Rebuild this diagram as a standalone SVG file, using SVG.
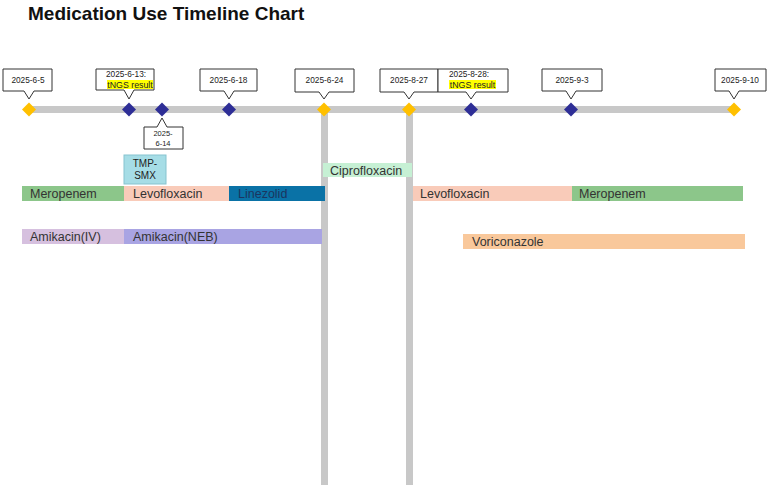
<svg xmlns="http://www.w3.org/2000/svg" width="767" height="485" viewBox="0 0 767 485">
<style>
.title{font-family:"Liberation Sans",Arial,sans-serif;font-size:19px;font-weight:bold;fill:#111}
.call{fill:#fff;stroke:#333;stroke-width:1}
.ct{font-family:"Liberation Sans",Arial,sans-serif;font-size:8.3px;fill:#222;text-anchor:middle}
.tn{font-size:8.8px}
.bl{font-family:"Liberation Sans",Arial,sans-serif;font-size:12.5px;fill:#333}
.gold{fill:#ffc000}
.navy{fill:#2e2e96}
.hl{fill:#ffff00}
</style>
<rect width="767" height="485" fill="#fff"/>
<text class="title" x="28" y="20">Medication Use Timeline Chart</text>
<g id="connectors">
<rect x="29" y="106" width="705" height="7" fill="#c8c8c8"/>
<rect x="321" y="109" width="7" height="376" fill="#c8c8c8"/>
<rect x="406" y="109" width="7" height="376" fill="#c8c8c8"/>
</g>
<g id="bars">
<g id="meropenem1"><rect x="22" y="186" width="102" height="15" fill="#8cc68a"/><text class="bl" x="30" y="198">Meropenem</text></g>
<g id="levofloxacin1"><rect x="124" y="186" width="105" height="15" fill="#f9cbb9"/><text class="bl" x="133" y="198">Levofloxacin</text></g>
<g id="linezolid"><rect x="229" y="186" width="96" height="15" fill="#0a72a6"/><text class="bl" x="238" y="198" style="fill:#1b3560">Linezolid</text></g>
<g id="tmpsmx"><rect x="124" y="155" width="42" height="29" fill="#a6dde6" stroke="#86c3cf" stroke-width="1"/><text class="ct" x="145" y="167" style="font-size:10px">TMP-</text><text class="ct" x="145" y="179" style="font-size:10px">SMX</text></g>
<g id="amikacin-iv"><rect x="22" y="229" width="102" height="15" fill="#d6c0df"/><text class="bl" x="30" y="241">Amikacin(IV)</text></g>
<g id="amikacin-neb"><rect x="124" y="229" width="198" height="15" fill="#a9a4e3"/><text class="bl" x="133" y="241">Amikacin(NEB)</text></g>
<g id="ciprofloxacin"><rect x="323" y="163" width="89" height="14" fill="#c6f0d4"/><text class="bl" x="330" y="175">Ciprofloxacin</text></g>
<g id="levofloxacin2"><rect x="413" y="186" width="159" height="15" fill="#f9cbb9"/><text class="bl" x="420" y="198">Levofloxacin</text></g>
<g id="meropenem2"><rect x="572" y="186" width="171" height="15" fill="#8cc68a"/><text class="bl" x="579" y="198">Meropenem</text></g>
<g id="voriconazole"><rect x="463" y="234" width="282" height="15" fill="#f9c89b"/><text class="bl" x="472" y="246">Voriconazole</text></g>
</g>
<g id="d-0605"><path class="gold" d="M29 102.5 L36 109.5 L29 116.5 L22 109.5Z"/><path class="call" d="M3 69 H52 V91 H34 L29 99 L24 91 H3 Z"/><text class="ct" x="28" y="83">2025-6-5</text></g>
<g id="d-0613"><path class="navy" d="M129 102.5 L136 109.5 L129 116.5 L122 109.5Z"/><path class="call" d="M96 69 H154 V90 H134 L129 99 L124 90 H96 Z"/><text class="ct" x="126" y="77">2025-6-13:</text><rect class="hl" x="107" y="80" width="46" height="9"/><text class="ct tn" x="130" y="87.5">tNGS result</text></g>
<g id="d-0614"><path class="navy" d="M162 102.5 L169 109.5 L162 116.5 L155 109.5Z"/><path class="call" d="M144 127 H157 L162 118 L167 127 H183 V149 H144 Z"/><text class="ct" x="163" y="136" style="font-size:7.5px">2025-</text><text class="ct" x="163" y="146" style="font-size:7.5px">6-14</text></g>
<g id="d-0618"><path class="navy" d="M229 102.5 L236 109.5 L229 116.5 L222 109.5Z"/><path class="call" d="M200 69 H257 V91 H234 L229 99 L224 91 H200 Z"/><text class="ct" x="228.5" y="83">2025-6-18</text></g>
<g id="d-0624"><path class="gold" d="M324 102.5 L331 109.5 L324 116.5 L317 109.5Z"/><path class="call" d="M295 69 H354 V92 H329 L324 99 L319 92 H295 Z"/><text class="ct" x="324.5" y="83">2025-6-24</text></g>
<g id="d-0827"><path class="gold" d="M409 102.5 L416 109.5 L409 116.5 L402 109.5Z"/><path class="call" d="M380 69 H438 V92 H414 L409 99 L404 92 H380 Z"/><text class="ct" x="409" y="83">2025-8-27</text></g>
<g id="d-0828"><path class="navy" d="M471 102.5 L478 109.5 L471 116.5 L464 109.5Z"/><path class="call" d="M438 69 H508 V92 H476 L471 99 L466 92 H438 Z"/><text class="ct" x="469" y="77">2025-8-28:</text><rect class="hl" x="449" y="80" width="47" height="9"/><text class="ct tn" x="472.5" y="87.5">tNGS result</text></g>
<g id="d-0903"><path class="navy" d="M571 102.5 L578 109.5 L571 116.5 L564 109.5Z"/><path class="call" d="M542 69 H602 V91 H576 L571 99 L566 91 H542 Z"/><text class="ct" x="572" y="83">2025-9-3</text></g>
<g id="d-0910"><path class="gold" d="M734 102.5 L741 109.5 L734 116.5 L727 109.5Z"/><path class="call" d="M715 69 H766 V91 H739 L734 99 L729 91 H715 Z"/><text class="ct" x="740" y="83">2025-9-10</text></g>
</svg>
